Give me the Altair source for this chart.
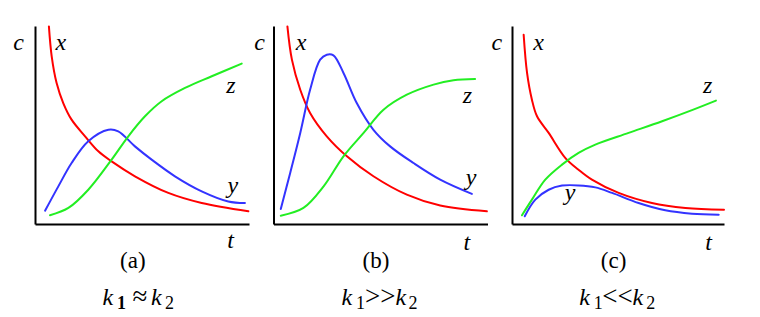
import altair as alt
import pandas as pd

# ---------------- data (t and c in % of each panel) -------------
# panel (a)  k1 ≈ k2
a_x_t = [6.5, 7.8, 10.1, 13.2, 17.1, 23.4, 29.6, 35.8, 46.7, 62.3, 77.9, 99.7]
a_x_c = [99.8, 84.7, 71.2, 61.1, 52.7, 44.3, 36.7, 31.6, 24.1, 15.7, 10.6, 6.4]
a_y_t = [4.7, 10.9, 17.1, 24.9, 34.3, 38.9, 46.7, 54.5, 65.4, 77.9, 90.3, 98.1]
a_y_c = [6.7, 19.0, 30.8, 41.8, 47.6, 46.8, 39.2, 32.5, 24.1, 16.5, 11.4, 10.6]
a_z_t = [7.0, 15.6, 24.9, 35.8, 43.6, 51.4, 59.2, 70.1, 82.6, 96.6]
a_z_c = [4.4, 8.1, 17.3, 32.5, 44.3, 54.4, 62.0, 68.7, 74.6, 81.0]

# panel (b)  k1 >> k2
b_x_t = [6.5, 8.6, 12.5, 17.1, 24.9, 34.3, 46.7, 62.3, 77.9, 99.7]
b_x_c = [99.8, 83.0, 67.8, 56.1, 44.3, 34.2, 24.1, 14.8, 9.3, 6.4]
b_y_t = [3.4, 7.8, 12.5, 17.1, 21.8, 24.9, 28.0, 32.7, 38.9, 46.7, 54.5, 65.4, 77.9, 92.7]
b_y_c = [7.6, 25.8, 46.0, 67.8, 83.0, 85.5, 85.2, 76.3, 61.1, 47.6, 39.2, 30.8, 22.4, 15.2]
b_z_t = [3.4, 14.0, 23.4, 32.7, 42.1, 51.4, 62.3, 74.8, 84.1, 94.2]
b_z_c = [4.2, 8.1, 19.0, 34.2, 46.0, 57.7, 65.3, 70.4, 72.6, 73.2]

# panel (c)  k1 << k2
c_x_t = [5.5, 7.1, 9.4, 11.8, 17.3, 25.2, 31.4, 37.7, 50.3, 66.0, 81.8, 100]
c_x_c = [95.6, 76.3, 62.8, 54.4, 46.0, 33.3, 27.4, 22.4, 15.7, 10.6, 8.1, 7.2]
c_y_t = [6.0, 11.0, 17.3, 23.6, 31.4, 39.3, 47.2, 59.7, 72.3, 84.9, 97.5]
c_y_c = [3.9, 12.3, 17.3, 19.4, 19.5, 18.5, 15.7, 10.6, 6.9, 5.2, 4.7]
c_z_t = [4.7, 9.4, 15.7, 23.6, 31.4, 39.3, 55.0, 70.8, 84.9, 96.2]
c_z_c = [4.4, 12.3, 22.4, 30.0, 35.9, 40.1, 46.0, 51.9, 57.5, 62.3]

# labels: italic letters (axis names and species names)
a_let_text = ["c", "x", "z", "y", "t"]
a_let_t = [-7.7, 12.1, 91.6, 92.4, 91.4]
a_let_c = [88.0, 88.0, 66.2, 15.7, -12.1]
b_let_text = ["c", "x", "z", "y", "t"]
b_let_t = [-6.5, 12.9, 90.6, 92.3, 90.3]
b_let_c = [88.0, 88.0, 61.1, 19.8, -13.0]
c_let_text = ["c", "x", "z", "y", "t"]
c_let_t = [-7.1, 12.5, 92.3, 27.4, 92.7]
c_let_c = [88.0, 88.0, 66.2, 12.3, -13.0]

# panel captions
captions = ["(a)", "(b)", "(c)"]
caption_t = [45.7, 47.9, 47.9]
caption_c = [-22.2, -22.2, -22.2]

# rate-constant relations: k1 <op> k2
operators = ["\u2248", ">>", "<<"]
relation_t = [31.6, 31.8, 31.7]     # left edge of the relation
relation_c = [-40.9, -40.9, -40.9]  # baseline

species = ["x", "y", "z"]
colors = ["#ff0000", "#3333ff", "#22ee22"]

FONT = "Liberation Serif"
HEIGHT = 198


def curves(series):
    rows = []
    for name, ts, cs in series:
        for i, (t, c) in enumerate(zip(ts, cs)):
            rows.append({"s": name, "t": t, "c": c, "o": i})
    return pd.DataFrame(rows)


def panel(series, let_text, let_t, let_c, idx, width, piece_offsets):
    xs = alt.Scale(domain=[0, 100], nice=False, zero=False)
    ys = alt.Scale(domain=[0, 100], nice=False, zero=False)
    ax = alt.Axis(domain=True, domainColor="black", domainWidth=2, ticks=False,
                  labels=False, grid=False, title=None)
    lines = alt.Chart(curves(series)).mark_line(
        strokeWidth=2, interpolate="catmull-rom", strokeCap="round"
    ).encode(
        x=alt.X("t:Q", scale=xs, axis=ax),
        y=alt.Y("c:Q", scale=ys, axis=ax),
        color=alt.Color("s:N", scale=alt.Scale(domain=species, range=colors), legend=None),
        detail="s:N",
        order="o:Q",
    )
    letters = alt.Chart(pd.DataFrame({"txt": let_text, "t": let_t, "c": let_c})).mark_text(
        font=FONT, fontSize=24, fontStyle="italic", baseline="alphabetic", align="center",
        color="black"
    ).encode(x=alt.X("t:Q", scale=xs), y=alt.Y("c:Q", scale=ys), text="txt:N")
    cap = alt.Chart(pd.DataFrame({"txt": [captions[idx]], "t": [caption_t[idx]],
                                  "c": [caption_c[idx]]})).mark_text(
        font=FONT, fontSize=23, baseline="alphabetic", align="center", color="black"
    ).encode(x=alt.X("t:Q", scale=xs), y=alt.Y("c:Q", scale=ys), text="txt:N")

    # relation pieces: (text, style) ; style: it = italic k, sub = subscript, op = operator
    pieces = [("k", "it"), ("1", "sub"), (operators[idx], "op"), ("k", "it"), ("2", "sub")]
    layers = [lines, letters, cap]
    for (txt, style), off in zip(pieces, piece_offsets):
        props = dict(font=FONT, baseline="alphabetic", align="left", color="black")
        if style == "it":
            props.update(fontSize=24, fontStyle="italic")
        elif style == "sub":
            props.update(fontSize=18, dy=4)
            if idx == 0 and txt == "1":
                props.update(fontWeight="bold")
        else:
            props.update(fontSize=27)
        df = pd.DataFrame({"txt": [txt],
                           "t": [relation_t[idx] + off / width * 100],
                           "c": [relation_c[idx]]})
        layers.append(alt.Chart(df).mark_text(**props).encode(
            x=alt.X("t:Q", scale=xs), y=alt.Y("c:Q", scale=ys), text="txt:N"))
    return alt.layer(*layers).properties(width=width, height=HEIGHT)


pa = panel([("x", a_x_t, a_x_c), ("y", a_y_t, a_y_c), ("z", a_z_t, a_z_c)],
           a_let_text, a_let_t, a_let_c, 0, 214, [0, 14.5, 30, 48.5, 62.5])
pb = panel([("x", b_x_t, b_x_c), ("y", b_y_t, b_y_c), ("z", b_z_t, b_z_c)],
           b_let_text, b_let_t, b_let_c, 1, 214, [0, 14.5, 23.5, 54, 67])
pc = panel([("x", c_x_t, c_x_c), ("y", c_y_t, c_y_c), ("z", c_z_t, c_z_c)],
           c_let_text, c_let_t, c_let_c, 2, 212, [0, 14.5, 23, 53.4, 67])

chart = alt.hconcat(pa, pb, pc, spacing=24.5, bounds="flush").properties(
    padding={"left": 13, "top": 22, "right": 0, "bottom": 0},
    background="white",
).configure_view(stroke=None)

chart.save("out.html", embed_options={"renderer": "svg", "actions": False})
